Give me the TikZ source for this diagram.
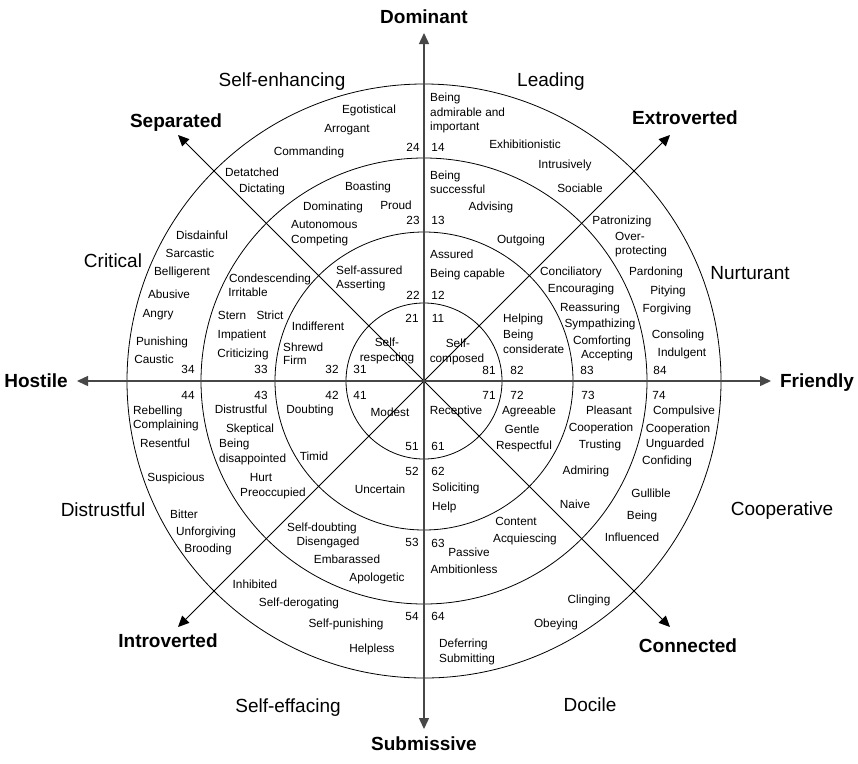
\documentclass[tikz,border=0pt]{standalone}
\usepackage{fontspec}
\setmainfont{Liberation Sans}
\usetikzlibrary{arrows.meta}
\begin{document}
\begin{tikzpicture}[x=1pt,y=-1pt,
  sm/.style={font=\fontsize{11.8}{13}\selectfont, inner sep=0pt, text height=8.5pt, text depth=0pt},
  oct/.style={font=\fontsize{19}{22}\selectfont, inner sep=0pt, text height=13.6pt, text depth=0pt},
  axlab/.style={font=\fontsize{19}{22}\selectfont\bfseries, inner sep=0pt, text height=13.6pt, text depth=0pt},
  axisline/.style={draw=black!72, line width=1.4pt, {Triangle[length=11pt,width=10pt]}-{Triangle[length=11pt,width=10pt]}},
  diagline/.style={draw=black, line width=0.9pt, {Triangle[length=11pt,width=10pt]}-{Triangle[length=11pt,width=10pt]}},
  ring/.style={draw=black, line width=0.8pt}]
\useasboundingbox[fill=white] (0,0) rectangle (858,763);
\coordinate (O) at (424,381);
% rings
\draw[ring] (O) circle[radius=78pt];
\draw[ring] (O) circle[radius=149pt];
\draw[ring] (O) circle[radius=223pt];
\draw[ring] (O) circle[radius=297pt];
% arrow tips
\coordinate (tipN) at (424,33);
\coordinate (tipS) at (424,729);
\coordinate (tipW) at (77,381);
\coordinate (tipE) at (771,381);
\coordinate (tipNW) at (178,135);
\coordinate (tipSE) at (670,627);
\coordinate (tipNE) at (670,135);
\coordinate (tipSW) at (178,627);
\draw[diagline] (tipNW) -- (tipSE);
\draw[diagline] (tipNE) -- (tipSW);
\draw[axisline] (tipN) -- (tipS);
\draw[axisline] (tipW) -- (tipE);
% axis labels
\node[axlab] (dom) at (424,17) {Dominant};
\node[axlab] (sub) at (424,744) {Submissive};
\node[axlab] (hos) at (36,381) {Hostile};
\node[axlab] (fri) at (817,381) {Friendly};
\node[axlab] (sep) at (176,121) {Separated};
\node[axlab] (ext) at (685,118) {Extroverted};
\node[axlab] (intr) at (168,641) {Introverted};
\node[axlab] (con) at (688,646) {Connected};
% octant labels
\node[oct] (o1) at (282,80) {Self-enhancing};
\node[oct] (o2) at (551,80) {Leading};
\node[oct] (o3) at (113,261) {Critical};
\node[oct] (o4) at (750,273) {Nurturant};
\node[oct] (o5) at (103,510) {Distrustful};
\node[oct] (o6) at (782,509) {Cooperative};
\node[oct] (o7) at (288,706) {Self-effacing};
\node[oct] (o8) at (590,705) {Docile};
% numbers
\node[sm] (n24) at (413,147) {24};
\node[sm] (n14) at (438,147) {14};
\node[sm] (n23) at (413,220) {23};
\node[sm] (n13) at (438,220) {13};
\node[sm] (n22) at (413,295) {22};
\node[sm] (n12) at (438,295) {12};
\node[sm] (n21) at (412,318) {21};
\node[sm] (n11) at (438,318) {11};
\node[sm] (n34) at (188,369) {34};
\node[sm] (n33) at (261,369) {33};
\node[sm] (n32) at (332,369) {32};
\node[sm] (n31) at (360,369) {31};
\node[sm] (n81) at (489,370) {81};
\node[sm] (n82) at (517,370) {82};
\node[sm] (n83) at (587,370) {83};
\node[sm] (n84) at (660,370) {84};
\node[sm] (n44) at (188,395) {44};
\node[sm] (n43) at (261,395) {43};
\node[sm] (n42) at (332,395) {42};
\node[sm] (n41) at (360,395) {41};
\node[sm] (n71) at (489,395) {71};
\node[sm] (n72) at (517,395) {72};
\node[sm] (n73) at (588,395) {73};
\node[sm] (n74) at (659,395) {74};
\node[sm] (n51) at (412,446) {51};
\node[sm] (n61) at (438,446) {61};
\node[sm] (n52) at (412,471) {52};
\node[sm] (n62) at (438,471) {62};
\node[sm] (n53) at (412,542) {53};
\node[sm] (n63) at (438,543) {63};
\node[sm] (n54) at (412,616) {54};
\node[sm] (n64) at (438,616) {64};
% upper left
\node[sm] (a1) at (369,109) {Egotistical};
\node[sm] (a2) at (347,128) {Arrogant};
\node[sm] (a3) at (309,151) {Commanding};
\node[sm] (a4) at (252,172) {Detatched};
\node[sm] (a5) at (262,188) {Dictating};
\node[sm] (a6) at (368,186) {Boasting};
\node[sm] (a7) at (333,206) {Dominating};
\node[sm] (a8) at (396,205) {Proud};
\node[sm, anchor=west] (a9) at (291,224) {Autonomous};
\node[sm, anchor=west] (a10) at (291,239) {Competing};
\node[sm, anchor=west] (a11) at (336,270) {Self-assured};
\node[sm, anchor=west] (a12) at (336,284) {Asserting};
\node[sm] (b1) at (202,235) {Disdainful};
\node[sm] (b2) at (190,253) {Sarcastic};
\node[sm] (b3) at (182,271) {Belligerent};
\node[sm] (b4) at (169,294) {Abusive};
\node[sm] (b5) at (158,313) {Angry};
\node[sm] (b6) at (162,341) {Punishing};
\node[sm] (b7) at (154,359) {Caustic};
\node[sm] (b8) at (270,278) {Condescending};
\node[sm] (b9) at (248,292) {Irritable};
\node[sm] (b10) at (232,315) {Stern};
\node[sm] (b11) at (270,315) {Strict};
\node[sm] (b12) at (242,334) {Impatient};
\node[sm] (b13) at (243,353) {Criticizing};
\node[sm] (b14) at (318,326) {Indifferent};
\node[sm, anchor=west] (b15) at (283,347) {Shrewd};
\node[sm, anchor=west] (b16) at (283,360) {Firm};
\node[sm] (b17) at (387,342) {Self-};
\node[sm] (b18) at (387,357) {respecting};
% upper right
\node[sm, anchor=west] (c1) at (430,97) {Being};
\node[sm, anchor=west] (c2) at (430,112) {admirable and};
\node[sm, anchor=west] (c3) at (430,126) {important};
\node[sm] (c4) at (525,144) {Exhibitionistic};
\node[sm] (c5) at (565,164) {Intrusively};
\node[sm] (c6) at (580,188) {Sociable};
\node[sm, anchor=west] (c7) at (430,175) {Being};
\node[sm, anchor=west] (c8) at (430,189) {successful};
\node[sm] (c9) at (491,206) {Advising};
\node[sm] (c10) at (622,220) {Patronizing};
\node[sm, anchor=west] (c11) at (615,236) {Over-};
\node[sm, anchor=west] (c12) at (615,250) {protecting};
\node[sm] (c13) at (521,239) {Outgoing};
\node[sm, anchor=west] (c14) at (430,254) {Assured};
\node[sm, anchor=west] (c15) at (430,273) {Being capable};
\node[sm] (d1) at (571,271) {Conciliatory};
\node[sm] (d2) at (581,288) {Encouraging};
\node[sm] (d3) at (590,307) {Reassuring};
\node[sm] (d4) at (600,323) {Sympathizing};
\node[sm] (d5) at (602,340) {Comforting};
\node[sm] (d6) at (607,354) {Accepting};
\node[sm] (d7) at (656,271) {Pardoning};
\node[sm] (d8) at (668,290) {Pitying};
\node[sm] (d9) at (667,308) {Forgiving};
\node[sm] (d10) at (678,334) {Consoling};
\node[sm] (d11) at (682,352) {Indulgent};
\node[sm, anchor=west] (d12) at (503,318) {Helping};
\node[sm, anchor=west] (d13) at (503,334) {Being};
\node[sm, anchor=west] (d14) at (503,349) {considerate};
\node[sm] (d15) at (458,343) {Self-};
\node[sm] (d16) at (457,358) {composed};
% lower left
\node[sm, anchor=west] (e1) at (133,410) {Rebelling};
\node[sm, anchor=west] (e2) at (133,424) {Complaining};
\node[sm] (e3) at (165,443) {Resentful};
\node[sm] (e4) at (176,477) {Suspicious};
\node[sm] (e5) at (184,514) {Bitter};
\node[sm] (e6) at (206,531) {Unforgiving};
\node[sm] (e7) at (208,548) {Brooding};
\node[sm] (e8) at (241,409) {Distrustful};
\node[sm] (e9) at (250,428) {Skeptical};
\node[sm, anchor=west] (e10) at (219,443) {Being};
\node[sm, anchor=west] (e11) at (219,458) {disappointed};
\node[sm] (e12) at (261,477) {Hurt};
\node[sm] (e13) at (273,492) {Preoccupied};
\node[sm] (e14) at (310,409) {Doubting};
\node[sm] (e15) at (314,456) {Timid};
\node[sm] (e16) at (390,412) {Modest};
\node[sm] (e17) at (380,489) {Uncertain};
\node[sm] (e18) at (322,527) {Self-doubting};
\node[sm] (e19) at (328,541) {Disengaged};
\node[sm] (e20) at (347,559) {Embarassed};
\node[sm] (e21) at (377,577) {Apologetic};
\node[sm] (e22) at (255,584) {Inhibited};
\node[sm] (e23) at (299,602) {Self-derogating};
\node[sm] (e24) at (346,623) {Self-punishing};
\node[sm] (e25) at (372,648) {Helpless};
% lower right
\node[sm] (f1) at (456,410) {Receptive};
\node[sm] (f2) at (529,410) {Agreeable};
\node[sm] (f3) at (522,429) {Gentle};
\node[sm] (f4) at (524,445) {Respectful};
\node[sm, anchor=west] (f5) at (432,487) {Soliciting};
\node[sm, anchor=west] (f6) at (432,506) {Help};
\node[sm] (f7) at (609,410) {Pleasant};
\node[sm] (f8) at (601,427) {Cooperation};
\node[sm] (f9) at (600,444) {Trusting};
\node[sm] (f10) at (586,470) {Admiring};
\node[sm] (f11) at (575,504) {Naive};
\node[sm] (f12) at (516,521) {Content};
\node[sm] (f13) at (525,538) {Acquiescing};
\node[sm] (f14) at (469,552) {Passive};
\node[sm] (f15) at (464,569) {Ambitionless};
\node[sm] (f16) at (684,410) {Compulsive};
\node[sm] (f17) at (678,428) {Cooperation};
\node[sm] (f18) at (675,443) {Unguarded};
\node[sm] (f19) at (667,460) {Confiding};
\node[sm] (f20) at (651,493) {Gullible};
\node[sm] (f21) at (642,515) {Being};
\node[sm] (f22) at (632,537) {Influenced};
\node[sm] (f23) at (589,599) {Clinging};
\node[sm] (f24) at (556,623) {Obeying};
\node[sm, anchor=west] (f25) at (439,643) {Deferring};
\node[sm, anchor=west] (f26) at (439,658) {Submitting};
\end{tikzpicture}
\end{document}
